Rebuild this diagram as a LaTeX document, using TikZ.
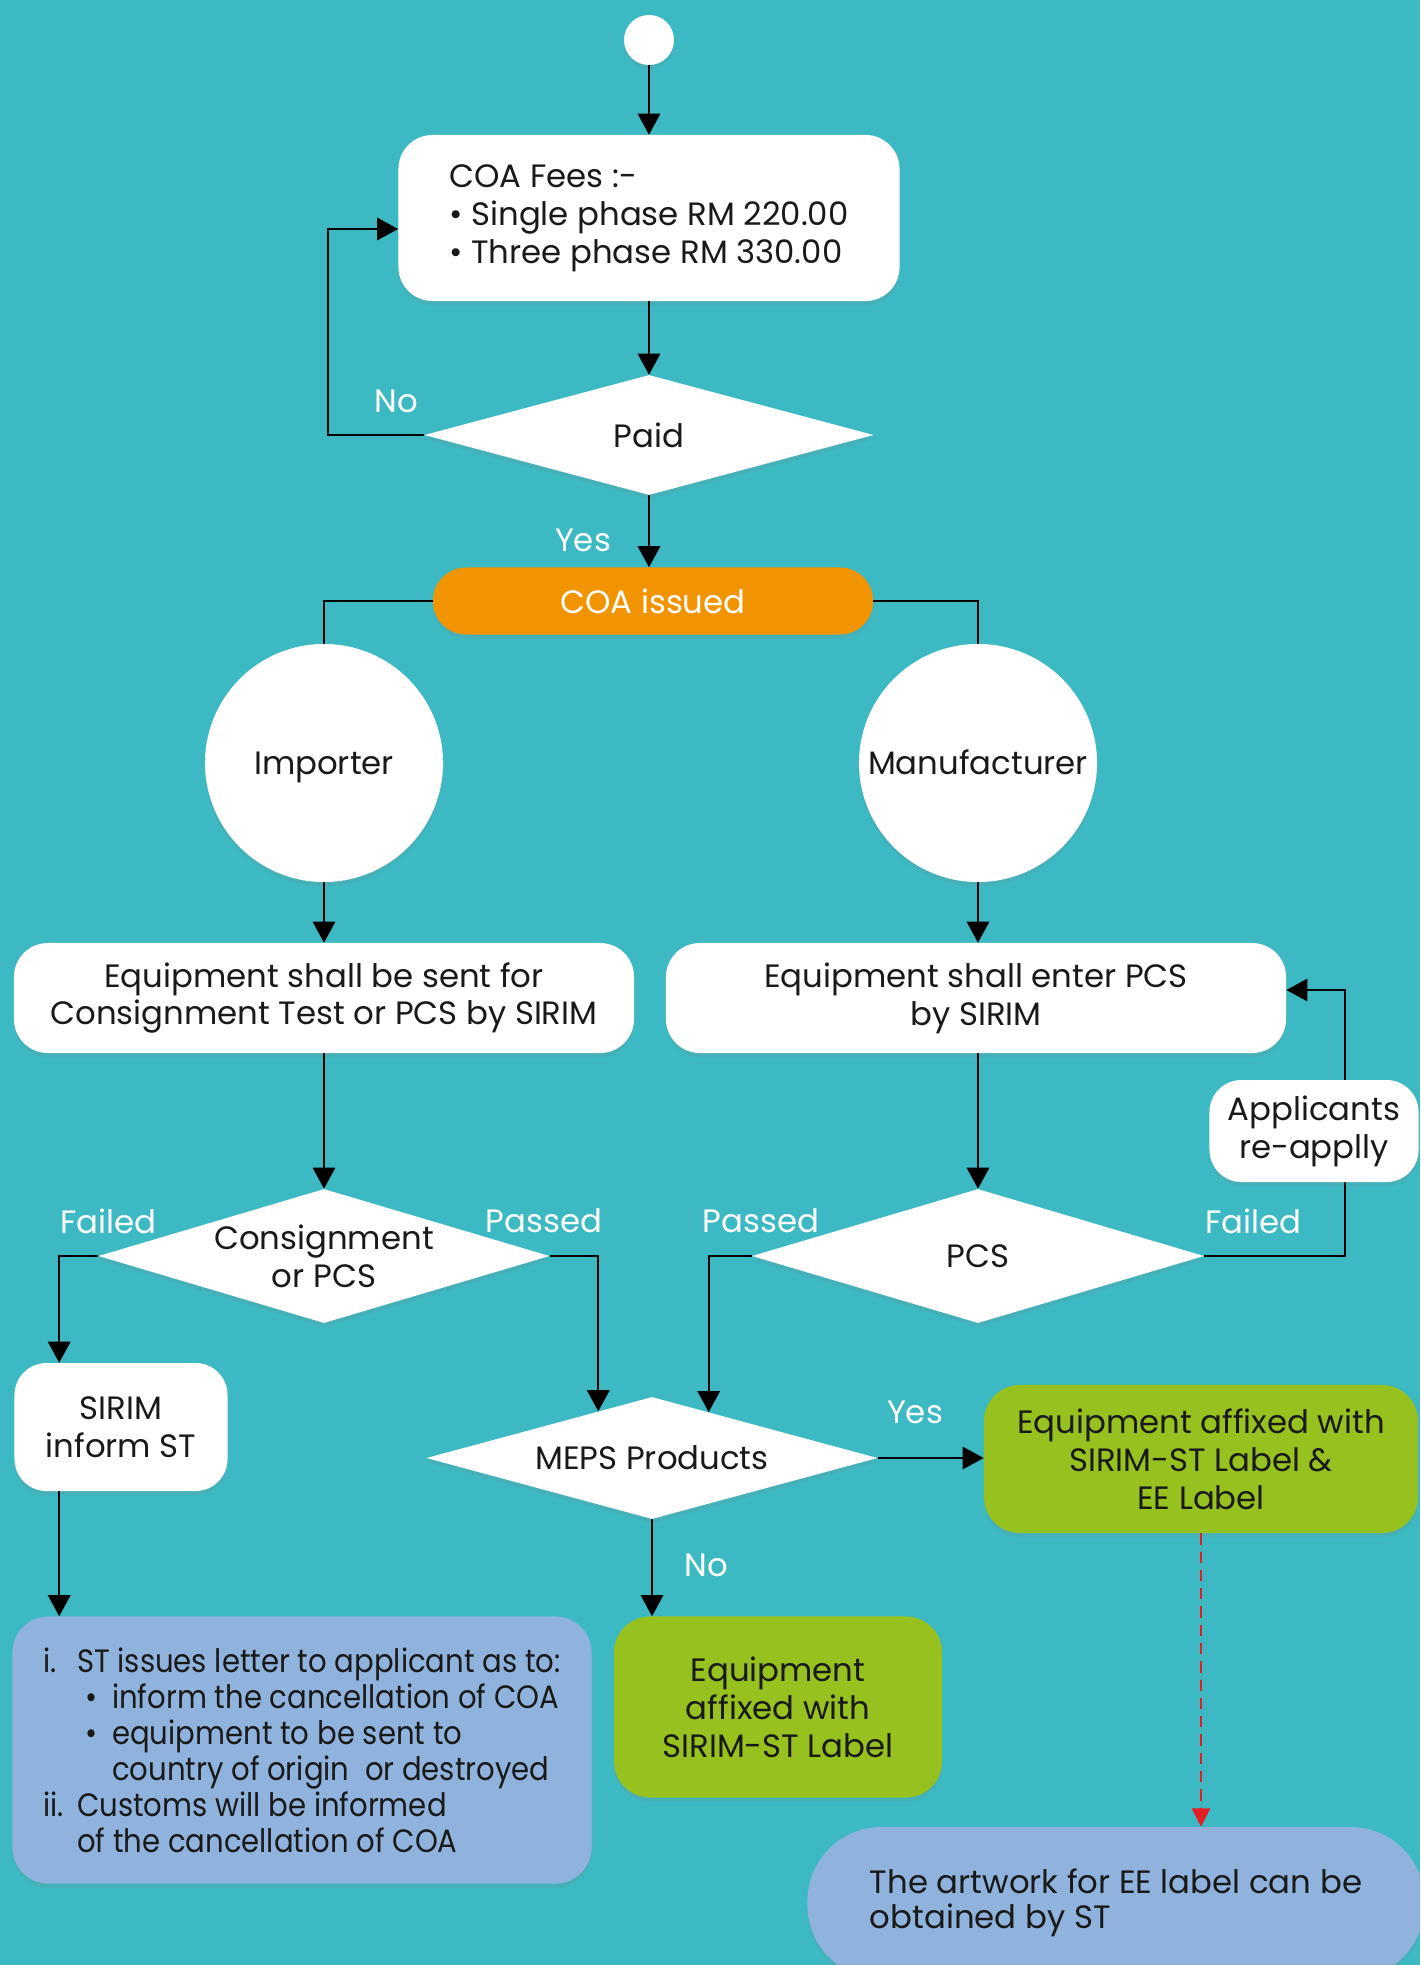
\documentclass[tikz,border=0pt]{standalone}
\usepackage{fontspec}
\setmainfont{Poppins}
\newfontfamily\narrowfont[FakeStretch=0.9]{Poppins}
\usepackage{tikz}
\usetikzlibrary{shapes}
\usetikzlibrary{arrows.meta}
\usetikzlibrary{shadows}
\newcommand\bodysize{\fontsize{23pt}{27pt}\selectfont}
\newcommand\narrowsize{\narrowfont\fontsize{23pt}{25.6pt}\selectfont}
\definecolor{bg}{RGB}{60,185,194}
\definecolor{coaorange}{RGB}{242,148,0}
\definecolor{limegreen}{RGB}{150,193,31}
\definecolor{paleblue}{RGB}{143,179,221}
\definecolor{dashred}{RGB}{228,30,38}
\tikzstyle{softshadow}=[drop shadow={opacity=0.15,shadow xshift=0pt,shadow yshift=-3pt}]
\tikzstyle{startdot}=[circle,fill=white,minimum size=1.25cm,inner sep=0pt,softshadow]
\tikzstyle{whitebox}=[rectangle,fill=white,rounded corners=0.85cm,align=center,inner sep=0pt,text=black!90,font=\bodysize,softshadow]
\tikzstyle{actor}=[circle,fill=white,minimum size=5.95cm,inner sep=0pt,text height=16pt,text depth=0pt,text=black!90,font=\bodysize,softshadow]
\tikzstyle{decision}=[diamond,fill=white,aspect=3.5,inner sep=0pt,align=center,text=black!90,font=\bodysize,softshadow]
\tikzstyle{issuebox}=[rectangle,fill=coaorange,text=white,rounded corners=0.83cm,font=\bodysize,softshadow]
\tikzstyle{greenbox}=[rectangle,fill=limegreen,rounded corners=0.9cm,align=center,text=black!90,font=\bodysize,softshadow]
\tikzstyle{bluebox}=[rectangle,fill=paleblue,rounded corners=0.9cm,align=left,text=black!90,font=\narrowsize,softshadow]
\tikzstyle{branch}=[text=white,font=\bodysize]
\tikzstyle{flow}=[-{Triangle[length=15pt,width=16pt]},line width=1.3pt]
\tikzstyle{link}=[line width=1.3pt]
\tikzstyle{hint}=[-{Triangle[length=13pt,width=13pt]},dash pattern=on 8pt off 5pt,line width=1.2pt,draw=dashred,fill=dashred]
\begin{document}
\begin{tikzpicture}[x=0.025cm,y=-0.025cm]
\path[use as bounding box,fill=bg] (0,0) rectangle (1420,1965);
\clip (0,0) rectangle (1420,1965);
\node[startdot] (start) at (649,40) {};
\node[whitebox,align=left,minimum width=12.525cm,minimum height=4.15cm] (fees) at (649,218) {COA Fees :-\\\textbullet{} Single phase RM 220.00\\\textbullet{} Three phase RM 330.00};
\node[decision,minimum width=11.225cm,minimum height=3cm] (paid) at (649,435) {Paid};
\node[issuebox,minimum width=11cm,minimum height=1.675cm] (issued) at (653,601) {COA issued};
\node[actor] (importer) at (324,763) {Importer};
\node[actor] (manuf) at (978,763) {Manufacturer};
\node[whitebox,minimum width=15.5cm,minimum height=2.75cm] (sent) at (324,998) {Equipment shall be sent for\\Consignment Test or PCS by SIRIM};
\node[whitebox,minimum width=15.5cm,minimum height=2.75cm] (enter) at (976,998) {Equipment shall enter PCS\\by SIRIM};
\node[decision,minimum width=11.275cm,minimum height=3.35cm] (consign) at (324,1256) {Consignment\\or PCS};
\node[decision,minimum width=11.3cm,minimum height=3.35cm] (pcs) at (978,1256) {PCS};
\node[whitebox,minimum width=5.325cm,minimum height=3.2cm,rounded corners=0.8cm] (inform) at (121,1427) {SIRIM\\inform ST};
\node[decision,minimum width=11.275cm,minimum height=3.05cm] (meps) at (652,1458) {MEPS Products};
\node[greenbox,minimum width=10.85cm,minimum height=3.7cm] (affixboth) at (1201,1459) {Equipment affixed with\\SIRIM-ST Label \&\\EE Label};
\node[greenbox,minimum width=8.2cm,minimum height=4.525cm] (affixst) at (778,1707) {Equipment\\affixed with\\SIRIM-ST Label};
\node[bluebox,minimum width=14.475cm,minimum height=6.675cm] (letter) at (302,1750) {\makebox[24pt][l]{i.}ST issues letter to applicant as to:\\
\hspace*{30pt}\makebox[19pt][l]{\textbullet}inform the cancellation of COA\\
\hspace*{30pt}\makebox[19pt][l]{\textbullet}equipment to be sent to\\
\hspace*{49pt}country of origin\ \ or destroyed\\
\makebox[24pt][l]{ii.}Customs will be informed\\
\hspace*{24pt}of the cancellation of COA};
\node[bluebox,minimum width=15.425cm,minimum height=3.8cm,rounded corners=1.85cm,font=\fontsize{23pt}{25pt}\selectfont] (artwork) at (1116,1903) {The artwork for EE label can be\\obtained by ST};
\node[branch] (nopaid) at (396,401) {No};
\node[branch] (yespaid) at (583,540) {Yes};
\node[branch] (failedcons) at (108,1221) {Failed};
\node[branch] (passedcons) at (544,1221) {Passed};
\node[branch] (passedpcs) at (761,1221) {Passed};
\node[branch] (failedpcs) at (1253,1221) {Failed};
\node[branch] (yesmeps) at (915,1412) {Yes};
\node[branch] (nomeps) at (706,1565) {No};
%arrows
\coordinate (feesloop) at (328,229);
\coordinate (pcsloop) at (1345,990);
\draw[flow] (start) -- (fees);
\draw[flow] (fees) -- (paid);
\draw[flow] (paid.south) -- (paid.south |- issued.north);
\draw[flow] (paid.west) -| (feesloop) -- (feesloop -| fees.west);
\draw[link] (issued.west) -| (importer.north);
\draw[link] (issued.east) -| (manuf.north);
\draw[flow] (importer) -- (sent);
\draw[flow] (manuf) -- (manuf |- enter.north);
\draw[flow] (sent) -- (consign);
\draw[flow] (manuf |- enter.south) -- (pcs);
\draw[flow] (consign.west) -| ([xshift=1.125cm]inform.north west);
\draw[flow] (consign.east) -| (meps.139);
\draw[flow] (pcs.west) -| (meps.39);
\draw[flow] (pcs.east) -| (pcsloop) -- (pcsloop -| enter.east);
\node[whitebox,minimum width=5.225cm,minimum height=2.55cm,rounded corners=0.8cm] (reapply) at (1314,1131) {Applicants\\re-applly};
\draw[flow] ([xshift=1.125cm]inform.south west) -- ([xshift=1.125cm]inform.south west |- letter.north);
\draw[flow] (meps.east) -- (meps.east -| affixboth.west);
\draw[flow] (meps.south) -- (meps.south |- affixst.north);
\draw[hint] (affixboth.south) -- (affixboth.south |- artwork.north);
\end{tikzpicture}
\end{document}
